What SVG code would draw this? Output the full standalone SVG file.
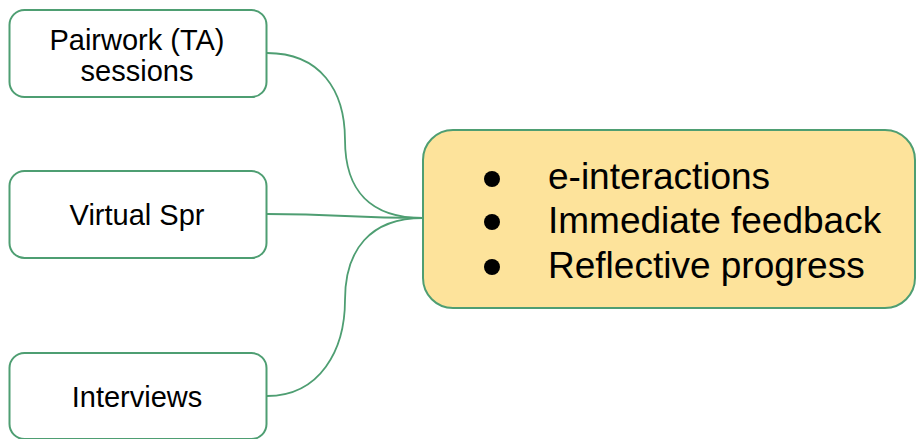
<svg xmlns="http://www.w3.org/2000/svg" width="916" height="439" viewBox="0 0 916 439">
<style>
.box{fill:#ffffff;stroke:#4e9e72;stroke-width:2}
.main{fill:#fde39b;stroke:#4e9e72;stroke-width:2}
.t{font-family:"Liberation Sans",Arial,sans-serif;font-size:29px;fill:#000;text-anchor:middle}
.b{font-family:"Liberation Sans",Arial,sans-serif;font-size:37px;fill:#000}
.c{fill:none;stroke:#4e9e72;stroke-width:1.8}
</style>
<rect width="916" height="439" fill="#fff"/>
<g id="connectors">
<path class="c" d="M267,53 C320,53 345,90 345,140 C345,190 370,218 423,218"/>
<path class="c" d="M267,214 C345,214 345,218 423,218"/>
<path class="c" d="M267,396 C320,396 345,350 345,300 C345,250 370,218 423,218"/>
</g>
<g id="n1"><rect class="box" x="9.5" y="10" width="257" height="87" rx="15"/>
<text class="t" x="137" y="50">Pairwork (TA)</text><text class="t" x="137" y="81">sessions</text></g>
<g id="n2"><rect class="box" x="9.5" y="171" width="257" height="87" rx="15"/>
<text class="t" x="137" y="225">Virtual Spr</text></g>
<g id="n3"><rect class="box" x="9.5" y="353" width="257" height="86" rx="15"/>
<text class="t" x="137" y="407">Interviews</text></g>
<g id="main"><rect class="main" x="423" y="130" width="492" height="178" rx="30"/>
<circle cx="492" cy="179" r="8"/><text class="b" x="548" y="189">e-interactions</text>
<circle cx="492" cy="222" r="8"/><text class="b" x="548" y="233">Immediate feedback</text>
<circle cx="492" cy="267" r="8"/><text class="b" x="548" y="278">Reflective progress</text></g>
</svg>
